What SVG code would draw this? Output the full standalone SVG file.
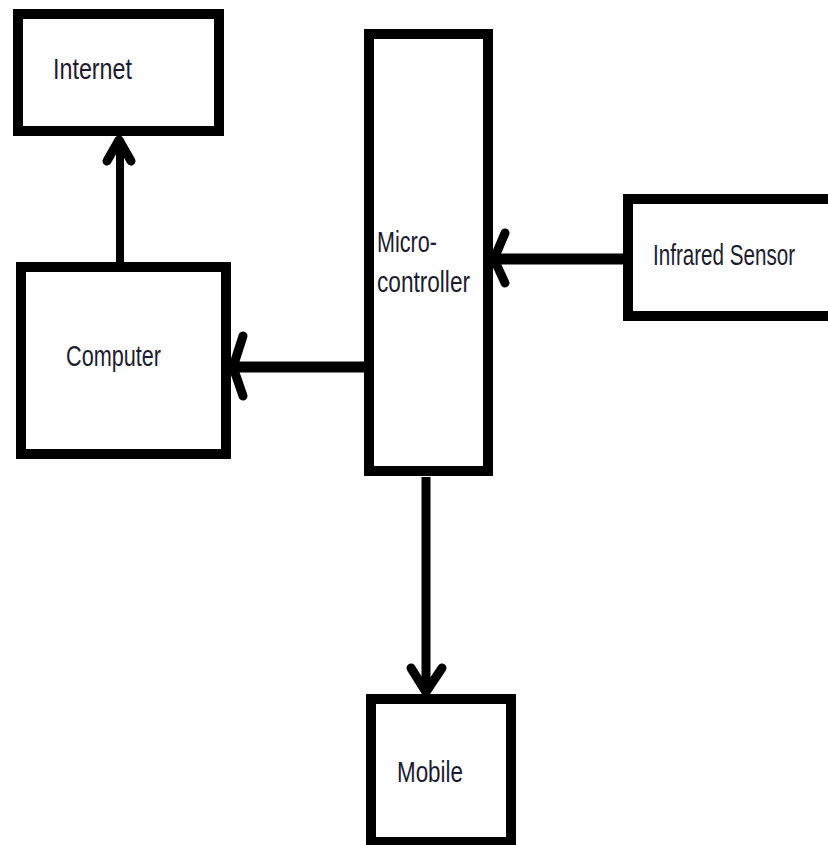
<svg xmlns="http://www.w3.org/2000/svg" width="828" height="845" viewBox="0 0 828 845">
<style>
.box{fill:#fff;stroke:#000;stroke-width:10}
.lbl{font-family:"Liberation Sans",Arial,sans-serif;font-size:30px;fill:#1c1c30}
.ln{stroke:#000;fill:none}
.head{stroke:#000;stroke-width:9;fill:none;stroke-linecap:round;stroke-linejoin:round}
</style>
<rect width="828" height="845" fill="#fff"/>
<g id="connectors">
<line class="ln" x1="120" y1="262" x2="120" y2="139" stroke-width="8"/>
<polyline class="head" points="107,161 119,140 131,161"/>
<line class="ln" x1="366" y1="367" x2="232" y2="367" stroke-width="11"/>
<polyline class="head" points="243,336 233,367 243,396"/>
<line class="ln" x1="624" y1="259" x2="494" y2="259" stroke-width="11"/>
<polyline class="head" points="505,233 494,259 505,283"/>
<line class="ln" x1="426" y1="477" x2="426" y2="690" stroke-width="9"/>
<polyline class="head" points="411,668 426,692 442,668"/>
</g>
<g id="internet">
<rect class="box" x="18" y="14" width="201" height="117"/>
<text class="lbl" x="53" y="79" textLength="79" lengthAdjust="spacingAndGlyphs">Internet</text>
</g>
<g id="computer">
<rect class="box" x="21" y="267" width="205" height="187"/>
<text class="lbl" x="66" y="366" textLength="95" lengthAdjust="spacingAndGlyphs">Computer</text>
</g>
<g id="microcontroller">
<rect class="box" x="369" y="34" width="119" height="437"/>
<text class="lbl" x="377" y="252" textLength="60" lengthAdjust="spacingAndGlyphs">Micro-</text>
<text class="lbl" x="377" y="292" textLength="93" lengthAdjust="spacingAndGlyphs">controller</text>
</g>
<g id="infrared">
<rect x="628" y="199" width="200" height="117" fill="#fff"/>
<path d="M828,199 H628 V316 H828" fill="none" stroke="#000" stroke-width="10"/>
<text class="lbl" transform="translate(653,265) scale(0.7,1)" x="0" y="0" textLength="203" lengthAdjust="spacingAndGlyphs">Infrared Sensor</text>
</g>
<g id="mobile">
<rect class="box" x="371" y="699" width="140" height="143"/>
<text class="lbl" x="397" y="782" textLength="66" lengthAdjust="spacingAndGlyphs">Mobile</text>
</g>
</svg>
